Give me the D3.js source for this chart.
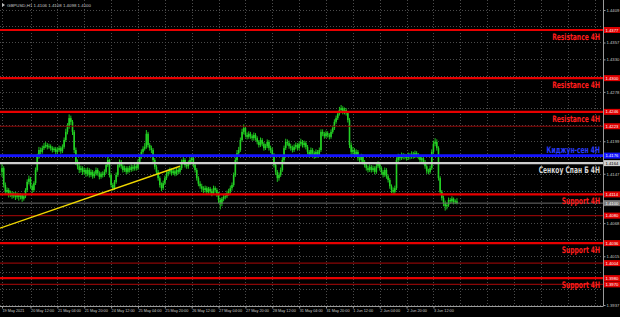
<!DOCTYPE html>
<html>
<head>
<meta charset="utf-8">
<title>GBPUSD H1</title>
<script src="https://cdn.jsdelivr.net/npm/d3@7"></script>
<style>
    html, body { margin: 0; padding: 0; background: #000; }
    svg { display: block; }
</style>
</head>
<body>
<script>

// GBPUSD, H1 - hourly bars from 19 May 2021 19:00, each bar opens at the previous close
var firstOpen = 1.4150;

var closes = [
    1.4156, 1.4129, 1.4118, 1.4121, 1.4113, 1.4116, 1.4111, 1.4115, 1.4110, 1.4113,
    1.4110, 1.4113, 1.4107, 1.4111, 1.4121, 1.4134, 1.4139, 1.4127, 1.4121, 1.4132,
    1.4153, 1.4175, 1.4185, 1.4182, 1.4188, 1.4191, 1.4193, 1.4190, 1.4191, 1.4188,
    1.4185, 1.4187, 1.4182, 1.4185, 1.4188, 1.4183, 1.4190, 1.4201, 1.4214, 1.4223,
    1.4236, 1.4230, 1.4214, 1.4185, 1.4166, 1.4159, 1.4153, 1.4156, 1.4150, 1.4153,
    1.4147, 1.4153, 1.4145, 1.4150, 1.4143, 1.4147, 1.4153, 1.4148, 1.4142, 1.4147,
    1.4145, 1.4150, 1.4161, 1.4169, 1.4145, 1.4129, 1.4124, 1.4134, 1.4145, 1.4161,
    1.4166, 1.4159, 1.4153, 1.4156, 1.4150, 1.4156, 1.4153, 1.4158, 1.4155, 1.4159,
    1.4156, 1.4166, 1.4174, 1.4182, 1.4187, 1.4190, 1.4211, 1.4193, 1.4188, 1.4185,
    1.4169, 1.4158, 1.4150, 1.4140, 1.4129, 1.4124, 1.4132, 1.4140, 1.4147, 1.4150,
    1.4153, 1.4148, 1.4151, 1.4147, 1.4153, 1.4150, 1.4156, 1.4166, 1.4169, 1.4161,
    1.4159, 1.4164, 1.4169, 1.4172, 1.4161, 1.4153, 1.4140, 1.4131, 1.4127, 1.4123,
    1.4121, 1.4124, 1.4118, 1.4123, 1.4119, 1.4116, 1.4124, 1.4121, 1.4115, 1.4105,
    1.4099, 1.4107, 1.4110, 1.4111, 1.4116, 1.4119, 1.4124, 1.4129, 1.4145, 1.4169,
    1.4180, 1.4185, 1.4201, 1.4214, 1.4220, 1.4209, 1.4206, 1.4211, 1.4207, 1.4204,
    1.4209, 1.4204, 1.4198, 1.4193, 1.4201, 1.4195, 1.4188, 1.4191, 1.4198, 1.4188,
    1.4185, 1.4177, 1.4161, 1.4150, 1.4140, 1.4145, 1.4153, 1.4169, 1.4188, 1.4198,
    1.4196, 1.4191, 1.4188, 1.4185, 1.4190, 1.4193, 1.4188, 1.4195, 1.4198, 1.4193,
    1.4196, 1.4190, 1.4182, 1.4177, 1.4185, 1.4180, 1.4175, 1.4182, 1.4177, 1.4185,
    1.4214, 1.4211, 1.4207, 1.4212, 1.4209, 1.4206, 1.4214, 1.4220, 1.4230, 1.4236,
    1.4243, 1.4249, 1.4252, 1.4246, 1.4249, 1.4244, 1.4233, 1.4193, 1.4182, 1.4185,
    1.4177, 1.4182, 1.4172, 1.4169, 1.4175, 1.4166, 1.4161, 1.4156, 1.4153, 1.4158,
    1.4153, 1.4156, 1.4150, 1.4159, 1.4163, 1.4156, 1.4150, 1.4145, 1.4153, 1.4143,
    1.4137, 1.4127, 1.4121, 1.4118, 1.4124, 1.4169, 1.4174, 1.4172, 1.4177, 1.4174,
    1.4175, 1.4172, 1.4177, 1.4174, 1.4179, 1.4175, 1.4180, 1.4177, 1.4174, 1.4169,
    1.4172, 1.4166, 1.4159, 1.4151, 1.4150, 1.4156, 1.4182, 1.4195, 1.4198, 1.4188,
    1.4140, 1.4118, 1.4108, 1.4100, 1.4095, 1.4097, 1.4105, 1.4103, 1.4107, 1.4102,
    1.4103, 1.4100
];

var highs = [
    1.4164, 1.4159, 1.4133, 1.4125, 1.4124, 1.4120, 1.4119, 1.4118, 1.4118, 1.4117,
    1.4116, 1.4116, 1.4115, 1.4114, 1.4124, 1.4138, 1.4144, 1.4142, 1.4130, 1.4135,
    1.4157, 1.4179, 1.4190, 1.4189, 1.4192, 1.4196, 1.4198, 1.4196, 1.4195, 1.4194,
    1.4191, 1.4190, 1.4190, 1.4189, 1.4192, 1.4191, 1.4194, 1.4205, 1.4219, 1.4228,
    1.4242, 1.4240, 1.4233, 1.4217, 1.4189, 1.4170, 1.4163, 1.4160, 1.4159, 1.4157,
    1.4156, 1.4157, 1.4156, 1.4154, 1.4153, 1.4151, 1.4157, 1.4156, 1.4151, 1.4150,
    1.4151, 1.4154, 1.4165, 1.4174, 1.4171, 1.4148, 1.4132, 1.4137, 1.4149, 1.4165,
    1.4170, 1.4169, 1.4162, 1.4160, 1.4159, 1.4159, 1.4160, 1.4162, 1.4161, 1.4163,
    1.4162, 1.4170, 1.4178, 1.4186, 1.4191, 1.4196, 1.4217, 1.4214, 1.4196, 1.4192,
    1.4188, 1.4172, 1.4161, 1.4153, 1.4143, 1.4133, 1.4136, 1.4144, 1.4151, 1.4154,
    1.4157, 1.4156, 1.4155, 1.4154, 1.4157, 1.4156, 1.4160, 1.4170, 1.4174, 1.4172,
    1.4165, 1.4168, 1.4173, 1.4177, 1.4175, 1.4164, 1.4156, 1.4143, 1.4135, 1.4131,
    1.4127, 1.4128, 1.4127, 1.4126, 1.4126, 1.4123, 1.4128, 1.4127, 1.4124, 1.4118,
    1.4108, 1.4110, 1.4114, 1.4116, 1.4120, 1.4123, 1.4128, 1.4133, 1.4149, 1.4173,
    1.4185, 1.4190, 1.4205, 1.4219, 1.4226, 1.4223, 1.4213, 1.4215, 1.4214, 1.4210,
    1.4213, 1.4212, 1.4207, 1.4201, 1.4205, 1.4204, 1.4198, 1.4195, 1.4202, 1.4201,
    1.4192, 1.4189, 1.4180, 1.4164, 1.4153, 1.4149, 1.4157, 1.4173, 1.4192, 1.4203,
    1.4202, 1.4200, 1.4195, 1.4192, 1.4194, 1.4197, 1.4196, 1.4199, 1.4203, 1.4201,
    1.4200, 1.4199, 1.4193, 1.4185, 1.4189, 1.4188, 1.4183, 1.4186, 1.4185, 1.4189,
    1.4218, 1.4218, 1.4214, 1.4216, 1.4215, 1.4212, 1.4218, 1.4224, 1.4234, 1.4240,
    1.4247, 1.4254, 1.4257, 1.4255, 1.4253, 1.4252, 1.4247, 1.4236, 1.4197, 1.4190,
    1.4188, 1.4186, 1.4185, 1.4176, 1.4179, 1.4178, 1.4169, 1.4164, 1.4160, 1.4162,
    1.4161, 1.4160, 1.4159, 1.4163, 1.4167, 1.4166, 1.4159, 1.4153, 1.4157, 1.4156,
    1.4146, 1.4140, 1.4130, 1.4125, 1.4128, 1.4173, 1.4179, 1.4178, 1.4181, 1.4180,
    1.4179, 1.4178, 1.4181, 1.4180, 1.4183, 1.4182, 1.4184, 1.4183, 1.4180, 1.4177,
    1.4176, 1.4175, 1.4169, 1.4162, 1.4155, 1.4160, 1.4186, 1.4200, 1.4204, 1.4202,
    1.4191, 1.4143, 1.4121, 1.4112, 1.4104, 1.4101, 1.4109, 1.4108, 1.4111, 1.4109,
    1.4106, 1.4108
];

var lows = [
    1.4142, 1.4125, 1.4114, 1.4115, 1.4109, 1.4110, 1.4107, 1.4108, 1.4105, 1.4107,
    1.4104, 1.4106, 1.4102, 1.4104, 1.4108, 1.4118, 1.4130, 1.4123, 1.4116, 1.4118,
    1.4129, 1.4150, 1.4171, 1.4178, 1.4179, 1.4185, 1.4188, 1.4186, 1.4187, 1.4184,
    1.4181, 1.4182, 1.4178, 1.4179, 1.4182, 1.4179, 1.4180, 1.4187, 1.4198, 1.4210,
    1.4219, 1.4225, 1.4209, 1.4180, 1.4161, 1.4154, 1.4148, 1.4149, 1.4145, 1.4146,
    1.4142, 1.4143, 1.4141, 1.4142, 1.4139, 1.4140, 1.4144, 1.4144, 1.4138, 1.4139,
    1.4141, 1.4142, 1.4147, 1.4158, 1.4141, 1.4125, 1.4120, 1.4121, 1.4131, 1.4142,
    1.4157, 1.4155, 1.4149, 1.4150, 1.4146, 1.4147, 1.4149, 1.4150, 1.4151, 1.4152,
    1.4152, 1.4153, 1.4163, 1.4171, 1.4179, 1.4184, 1.4187, 1.4189, 1.4184, 1.4180,
    1.4165, 1.4154, 1.4146, 1.4136, 1.4125, 1.4119, 1.4121, 1.4129, 1.4137, 1.4143,
    1.4146, 1.4144, 1.4145, 1.4143, 1.4144, 1.4146, 1.4147, 1.4153, 1.4162, 1.4157,
    1.4155, 1.4155, 1.4161, 1.4166, 1.4157, 1.4149, 1.4136, 1.4127, 1.4123, 1.4118,
    1.4116, 1.4117, 1.4114, 1.4115, 1.4115, 1.4111, 1.4113, 1.4117, 1.4110, 1.4100,
    1.4090, 1.4095, 1.4103, 1.4106, 1.4108, 1.4112, 1.4115, 1.4120, 1.4126, 1.4142,
    1.4165, 1.4176, 1.4182, 1.4198, 1.4210, 1.4205, 1.4202, 1.4203, 1.4203, 1.4200,
    1.4200, 1.4200, 1.4194, 1.4189, 1.4190, 1.4191, 1.4184, 1.4185, 1.4188, 1.4184,
    1.4180, 1.4173, 1.4157, 1.4145, 1.4134, 1.4136, 1.4142, 1.4150, 1.4166, 1.4185,
    1.4192, 1.4187, 1.4184, 1.4181, 1.4182, 1.4186, 1.4184, 1.4185, 1.4191, 1.4189,
    1.4189, 1.4186, 1.4178, 1.4173, 1.4174, 1.4176, 1.4171, 1.4172, 1.4173, 1.4174,
    1.4182, 1.4207, 1.4203, 1.4204, 1.4205, 1.4202, 1.4203, 1.4211, 1.4217, 1.4227,
    1.4233, 1.4240, 1.4245, 1.4242, 1.4242, 1.4240, 1.4229, 1.4188, 1.4177, 1.4178,
    1.4173, 1.4174, 1.4168, 1.4165, 1.4166, 1.4162, 1.4157, 1.4152, 1.4149, 1.4150,
    1.4149, 1.4150, 1.4146, 1.4147, 1.4156, 1.4152, 1.4146, 1.4141, 1.4142, 1.4139,
    1.4133, 1.4123, 1.4116, 1.4113, 1.4115, 1.4121, 1.4165, 1.4168, 1.4169, 1.4170,
    1.4170, 1.4168, 1.4169, 1.4170, 1.4171, 1.4171, 1.4172, 1.4173, 1.4170, 1.4165,
    1.4166, 1.4162, 1.4155, 1.4147, 1.4146, 1.4147, 1.4153, 1.4179, 1.4191, 1.4184,
    1.4136, 1.4114, 1.4104, 1.4095, 1.4088, 1.4090, 1.4094, 1.4099, 1.4100, 1.4098,
    1.4099, 1.4098
];

// time axis labels and the bar each one sits on
var timeLabels = ["19 May 2021", "20 May 12:00", "21 May 04:00", "21 May 20:00", "24 May 12:00",
    "25 May 04:00", "25 May 20:00", "26 May 12:00", "27 May 04:00", "27 May 20:00", "28 May 12:00",
    "31 May 04:00", "31 May 20:00", "1 Jun 12:00", "2 Jun 04:00", "2 Jun 20:00", "3 Jun 12:00"];
var timeLabelBars = [0, 17, 33, 49, 65, 81, 97, 113, 129, 145, 161, 177, 193, 209, 225, 241, 257];
// grid keeps going into the empty space right of the last bar
var gridBars = [0, 17, 33, 49, 65, 81, 97, 113, 129, 145, 161, 177, 193, 209, 225, 241, 257,
    273, 289, 305, 321, 337, 353];

var priceTicks = [1.4409, 1.4383, 1.4357, 1.4330, 1.4304, 1.4278, 1.4252, 1.4225, 1.4199, 1.4173,
    1.4147, 1.4120, 1.4094, 1.4068, 1.4042, 1.4015, 1.3989, 1.3963, 1.3937];

// horizontal levels
var levelPrices = [1.4377, 1.4300, 1.4246, 1.4223, 1.4114, 1.4080, 1.4036, 1.4004, 1.3980, 1.3970];
var levelKinds  = ["main", "main", "main", "extra", "main", "extra", "main", "extra", "main", "extra"];
var levelTexts  = ["Resistance 4H", "Resistance 4H", "Resistance 4H", "", "Support 4H", "",
    "Support 4H", "", "Support 4H", ""];

var kijunPrice = 1.4176, kijunText = "Киджун-сен 4H";
var senkouPrice = 1.4164, senkouText = "Сенкоу Спан Б 4H";
var bidPrice = 1.4100;

// yellow trend line, two anchor points (bar, price)
var trendBars = [-1.2, 106];
var trendPrices = [1.4060, 1.4159];

var titleText = "GBPUSD,H1  1.4106 1.4108 1.4098 1.4100";

//---------------------------------------------------------------

var width = 620, height = 317,
    plotRight = 603, plotBottom = 306;

var x = d3.scaleLinear().domain([0, 358]).range([2, plotRight]);
var y = d3.scaleLinear().domain([1.4425, 1.39354]).range([0, plotBottom]);

var svg = d3.select("body").append("svg")
    .attr("width", width)
    .attr("height", height)
    .style("background", "#000");

svg.append("defs").append("clipPath")
    .attr("id", "plot-clip")
    .append("rect")
    .attr("x", 0).attr("y", 0)
    .attr("width", plotRight).attr("height", plotBottom);

// grid
var gridG = svg.append("g").attr("clip-path", "url(#plot-clip)");

gridG.selectAll("line.vgrid")
    .data(gridBars)
    .enter().append("line")
    .attr("class", "vgrid")
    .attr("x1", function (d) { return Math.round(x(d)) + 0.5; })
    .attr("x2", function (d) { return Math.round(x(d)) + 0.5; })
    .attr("y1", 0).attr("y2", plotBottom)
    .attr("stroke", "#4b4b4b")
    .attr("stroke-dasharray", "1,2");

gridG.selectAll("line.hgrid")
    .data(priceTicks)
    .enter().append("line")
    .attr("class", "hgrid")
    .attr("x1", 0).attr("x2", plotRight)
    .attr("y1", function (d) { return Math.round(y(d)) + 0.5; })
    .attr("y2", function (d) { return Math.round(y(d)) + 0.5; })
    .attr("stroke", "#4b4b4b")
    .attr("stroke-dasharray", "1,2");

// candles
var bars = closes.map(function (c, i) {
    return {i: i, o: i ? closes[i - 1] : firstOpen, h: highs[i], l: lows[i], c: c};
});

var candleG = svg.append("g").attr("clip-path", "url(#plot-clip)");

candleG.selectAll("line.wick")
    .data(bars)
    .enter().append("line")
    .attr("class", "wick")
    .attr("x1", function (d) { return x(d.i); })
    .attr("x2", function (d) { return x(d.i); })
    .attr("y1", function (d) { return y(d.h); })
    .attr("y2", function (d) { return y(d.l); })
    .attr("stroke", "#1fc41f")
    .attr("stroke-width", 1);

candleG.selectAll("rect.body")
    .data(bars)
    .enter().append("rect")
    .attr("class", "body")
    .attr("x", function (d) { return x(d.i) - 0.8; })
    .attr("width", 1.6)
    .attr("y", function (d) { return y(Math.max(d.o, d.c)); })
    .attr("height", function (d) { return Math.max(1, Math.abs(y(d.o) - y(d.c))); })
    .attr("fill", "#24d024");

// level lines
var lineG = svg.append("g").attr("clip-path", "url(#plot-clip)");

function hLine(price, color, w)
{
    lineG.append("line")
        .attr("x1", 0).attr("x2", plotRight)
        .attr("y1", y(price)).attr("y2", y(price))
        .attr("stroke", color)
        .attr("stroke-width", w);
}

hLine(bidPrice, "#6e6e6e", 1);
levelPrices.forEach(function (p, i) {
    if (levelKinds[i] === "main") hLine(p, "#e80000", 2.2);
    else hLine(p, "#8a0606", 1.2);
});
hLine(kijunPrice, "#1414ff", 2.6);
hLine(senkouPrice, "#cfcfcf", 2.2);

// trend line
lineG.append("line")
    .attr("x1", x(trendBars[0])).attr("y1", y(trendPrices[0]))
    .attr("x2", x(trendBars[1])).attr("y2", y(trendPrices[1]))
    .attr("stroke", "#f0d800")
    .attr("stroke-width", 1.4);

// level captions: tall narrow bold lettering, squeezed horizontally
var labelFont = "'Liberation Sans Narrow', 'DejaVu Sans Condensed', sans-serif";

function caption(price, text, color, dy)
{
    svg.append("g")
        .attr("transform", "translate(600," + (y(price) + dy) + ") scale(0.74,1)")
        .append("text")
        .attr("x", 0).attr("y", 0)
        .attr("text-anchor", "end")
        .attr("dominant-baseline", "central")
        .attr("font-family", labelFont)
        .attr("font-weight", "bold")
        .attr("font-size", "9px")
        .attr("fill", color)
        .text(text);
}

levelPrices.forEach(function (p, i) {
    if (levelTexts[i]) caption(p, levelTexts[i], "#ff1c1c", 7);
});
caption(kijunPrice, kijunText, "#2a3cff", -5);
caption(senkouPrice, senkouText, "#d6d6d6", 7);

// price axis
svg.append("line")
    .attr("x1", plotRight + 0.5).attr("x2", plotRight + 0.5)
    .attr("y1", 0).attr("y2", plotBottom)
    .attr("stroke", "#9a9a9a");

// the level boxes cover the tick labels they sit on
var boxPrices = levelPrices.concat([kijunPrice, senkouPrice, bidPrice]);
var shownTicks = priceTicks.filter(function (t) {
    return boxPrices.every(function (b) { return Math.abs(y(t) - y(b)) > 6.5; });
});

var yAxis = d3.axisRight(y)
    .tickValues(shownTicks)
    .tickFormat(d3.format(".4f"))
    .tickSize(2);

var yAxisG = svg.append("g")
    .attr("transform", "translate(" + (plotRight + 0.5) + ",0)")
    .call(yAxis);
yAxisG.select(".domain").remove();
yAxisG.selectAll("line").attr("stroke", "#9a9a9a");
yAxisG.selectAll("text")
    .attr("x", 3)
    .attr("fill", "#c8c8c8")
    .attr("font-family", "'Liberation Sans', sans-serif")
    .attr("font-size", "4.2px");

// price boxes on the axis
function priceBox(price, fill, txt)
{
    var g = svg.append("g").attr("transform", "translate(" + (plotRight + 1) + "," + y(price) + ")");
    g.append("rect")
        .attr("x", 0).attr("y", -3)
        .attr("width", width - plotRight - 1).attr("height", 6)
        .attr("fill", fill);
    g.append("text")
        .attr("x", 1.5).attr("y", 0)
        .attr("dominant-baseline", "central")
        .attr("fill", txt)
        .attr("font-family", "'Liberation Sans', sans-serif")
        .attr("font-size", "4.2px")
        .text(d3.format(".4f")(price));
}

levelPrices.forEach(function (p) { priceBox(p, "#e00000", "#fff"); });
priceBox(kijunPrice, "#1414ff", "#fff");
priceBox(senkouPrice, "#d0d0d0", "#000");
priceBox(bidPrice, "#7a7a7a", "#fff");

// time axis
svg.append("line")
    .attr("x1", 0).attr("x2", plotRight + 0.5)
    .attr("y1", plotBottom + 0.5).attr("y2", plotBottom + 0.5)
    .attr("stroke", "#9a9a9a");

var xAxis = d3.axisBottom(x)
    .tickValues(timeLabelBars)
    .tickFormat(function (d, i) { return timeLabels[i]; })
    .tickSize(2);

var xAxisG = svg.append("g")
    .attr("transform", "translate(0," + (plotBottom + 0.5) + ")")
    .call(xAxis);
xAxisG.select(".domain").remove();
xAxisG.selectAll("line").attr("stroke", "#9a9a9a");
xAxisG.selectAll("text")
    .attr("text-anchor", "start")
    .attr("y", 3)
    .attr("fill", "#c8c8c8")
    .attr("font-family", "'Liberation Sans', sans-serif")
    .attr("font-size", "3.8px");

// window title
svg.append("path")
    .attr("d", "M2,3 L5,5 L2,7 Z")
    .attr("fill", "#bbb");
svg.append("text")
    .attr("x", 7).attr("y", 5)
    .attr("dominant-baseline", "central")
    .attr("fill", "#c8c8c8")
    .attr("font-family", "'Liberation Sans', sans-serif")
    .attr("font-size", "4.4px")
    .text(titleText);

</script>
</body>
</html>
